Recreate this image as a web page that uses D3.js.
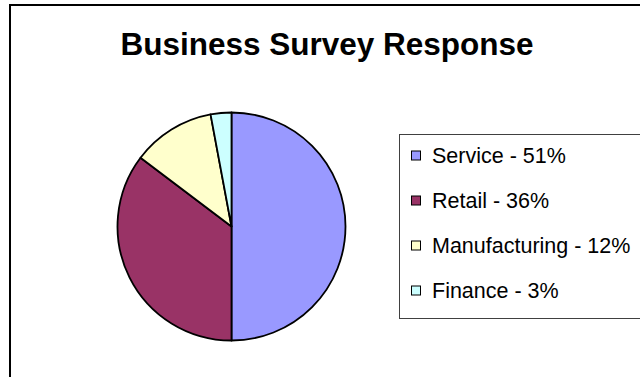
<!DOCTYPE html>
<html>
<head>
<meta charset="utf-8">
<script src="https://cdn.jsdelivr.net/npm/d3@7"></script>
<style>
  html, body { margin: 0; padding: 0; background: #fff; }
  svg { display: block; }
  text { font-family: "Liberation Sans", Arial, Helvetica, sans-serif; }
</style>
</head>
<body>
<svg id="chart" width="640" height="377"></svg>
<script>
// Survey response share by business sector
const categories = ["Service", "Retail", "Manufacturing", "Finance"];
const shares = [51, 36, 12, 3];
const colors = ["#9999FF", "#993366", "#FFFFCC", "#CCFFFF"];
const titleText = "Business Survey Response";

const svg = d3.select("#chart");

// Chart area frame (continues past the right and bottom edges)
svg.append("rect")
  .attr("x", 10).attr("y", 5)
  .attr("width", 700).attr("height", 420)
  .attr("fill", "#fff")
  .attr("stroke", "#000")
  .attr("stroke-width", 2);

// Title
svg.append("text")
  .attr("x", 327).attr("y", 55)
  .attr("text-anchor", "middle")
  .attr("font-size", 31.5)
  .attr("font-weight", "bold")
  .attr("fill", "#000")
  .text(titleText);

// Pie
const cx = 231.5, cy = 226.5, radius = 114;
const data = categories.map((c, i) => ({ name: c, value: shares[i], color: colors[i] }));
const pie = d3.pie().sort(null).value(d => d.value);
const arc = d3.arc().innerRadius(0).outerRadius(radius);

svg.append("g")
  .attr("transform", `translate(${cx},${cy})`)
  .selectAll("path")
  .data(pie(data))
  .join("path")
  .attr("d", arc)
  .attr("fill", d => d.data.color)
  .attr("stroke", "#000")
  .attr("stroke-width", 1.8)
  .attr("stroke-linejoin", "round");

// Legend
const legend = svg.append("g");
legend.append("rect")
  .attr("x", 399.5).attr("y", 134.5)
  .attr("width", 300).attr("height", 184)
  .attr("fill", "#fff")
  .attr("stroke", "#404040")
  .attr("stroke-width", 1);

const rowY = d3.scalePoint().domain(categories).range([155.5, 290.5]);

const items = legend.selectAll("g.item")
  .data(data)
  .join("g")
  .attr("class", "item")
  .attr("transform", d => `translate(0,${rowY(d.name)})`);

items.append("rect")
  .attr("x", 411.5).attr("y", -4.5)
  .attr("width", 9).attr("height", 9)
  .attr("fill", d => d.color)
  .attr("stroke", "#000")
  .attr("stroke-width", 1);

items.append("text")
  .attr("x", 432).attr("y", 7)
  .attr("font-size", 21.5)
  .attr("fill", "#000")
  .text(d => `${d.name} - ${d.value}%`);
</script>
</body>
</html>
